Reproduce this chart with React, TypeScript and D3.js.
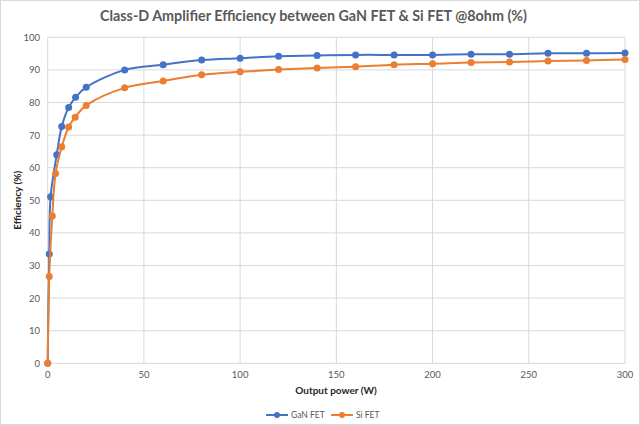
import React from "react";
import * as d3 from "d3";

const W = 640;
const H = 425;

const title = "Class-D Amplifier Efficiency between GaN FET & Si FET @8ohm (%)";
const xTitle = "Output power (W)";
const yTitle = "Efficiency (%)";
const seriesNames = ["GaN FET", "Si FET"];
const seriesColors = ["#4472C4", "#ED7D31"];

const xTicks = [0, 50, 100, 150, 200, 250, 300];
const yTicks = [0, 10, 20, 30, 40, 50, 60, 70, 80, 90, 100];

const ganPower = [0, 0.8, 1.5, 4.7, 7.3, 10.9, 14.5, 20, 40, 60, 80, 100, 120, 140, 160, 180, 200, 220, 240, 260, 280, 300];
const ganEff = [0, 33.5, 51.1, 64.0, 72.6, 78.5, 81.6, 84.7, 90.0, 91.6, 93.0, 93.6, 94.2, 94.4, 94.6, 94.6, 94.6, 94.8, 94.8, 95.1, 95.1, 95.2];

const siPower = [0, 0.8, 2.4, 4.1, 7.3, 10.9, 14.3, 20, 40, 60, 80, 100, 120, 140, 160, 180, 200, 220, 240, 260, 280, 300];
const siEff = [0, 26.6, 45.2, 58.2, 66.4, 72.5, 75.5, 79.1, 84.5, 86.6, 88.5, 89.4, 90.1, 90.6, 91.0, 91.6, 91.9, 92.3, 92.4, 92.7, 92.9, 93.2];

const FONT = "Lato, 'Open Sans', sans-serif";
const TEXT = "#595959";

export default function App() {
  const x = d3.scaleLinear().domain([0, 300]).range([47.7, 625]);
  const y = d3.scaleLinear().domain([0, 100]).range([363.3, 37.3]);

  const series = [
    { name: seriesNames[0], color: seriesColors[0], pts: ganPower.map((p, i) => [p, ganEff[i]] as [number, number]) },
    { name: seriesNames[1], color: seriesColors[1], pts: siPower.map((p, i) => [p, siEff[i]] as [number, number]) },
  ];

  const line = d3
    .line<[number, number]>()
    .x((d) => x(d[0]))
    .y((d) => y(d[1]))
    .curve(d3.curveCatmullRom.alpha(0.5));

  const legendItems = [
    { x0: 266, name: seriesNames[0], color: seriesColors[0] },
    { x0: 331, name: seriesNames[1], color: seriesColors[1] },
  ];

  return (
    <svg
      width={W}
      height={H}
      style={{ position: "fixed", top: 0, left: 0, background: "#fff" }}
      fontFamily={FONT}
    >
      <rect x={0.5} y={0.5} width={W - 1} height={H - 1} fill="#fff" stroke="#d9d9d9" />
      <text
        x={100}
        y={21}
        fontSize={15}
        fontWeight="bold"
        fill={TEXT}
        textLength={427}
        lengthAdjust="spacingAndGlyphs"
      >
        {title}
      </text>

      {yTicks.map((t) => (
        <line key={"hy" + t} x1={x(0)} x2={x(300)} y1={y(t)} y2={y(t)} stroke="#d9d9d9" strokeWidth={1} />
      ))}
      {xTicks.map((t) => (
        <line key={"vx" + t} x1={x(t)} x2={x(t)} y1={y(0)} y2={y(100)} stroke="#d9d9d9" strokeWidth={1} />
      ))}

      {yTicks.map((t) => (
        <text key={"ly" + t} x={40} y={y(t) + 3.5} fontSize={9.5} fill={TEXT} textAnchor="end">
          {t}
        </text>
      ))}
      {xTicks.map((t) => (
        <text key={"lx" + t} x={x(t)} y={378} fontSize={9.5} fill={TEXT} textAnchor="middle">
          {t}
        </text>
      ))}

      <text x={336} y={394} fontSize={10} fontWeight="bold" fill="#262626" textAnchor="middle">
        {xTitle}
      </text>
      <text
        transform={`translate(21, ${y(50)}) rotate(-90)`}
        fontSize={10}
        fontWeight="bold"
        fill="#262626"
        textAnchor="middle"
      >
        {yTitle}
      </text>

      {series.map((s) => (
        <g key={s.name}>
          <path d={line(s.pts) || ""} fill="none" stroke={s.color} strokeWidth={2} />
          {s.pts.map((d, i) => (
            <circle key={i} cx={x(d[0])} cy={y(d[1])} r={3.5} fill={s.color} />
          ))}
        </g>
      ))}

      {legendItems.map((l) => (
        <g key={l.name}>
          <line x1={l.x0} x2={l.x0 + 22} y1={415} y2={415} stroke={l.color} strokeWidth={2} />
          <circle cx={l.x0 + 11} cy={415} r={3} fill={l.color} />
          <text x={l.x0 + 25} y={418} fontSize={8.5} fill={TEXT}>
            {l.name}
          </text>
        </g>
      ))}
    </svg>
  );
}
